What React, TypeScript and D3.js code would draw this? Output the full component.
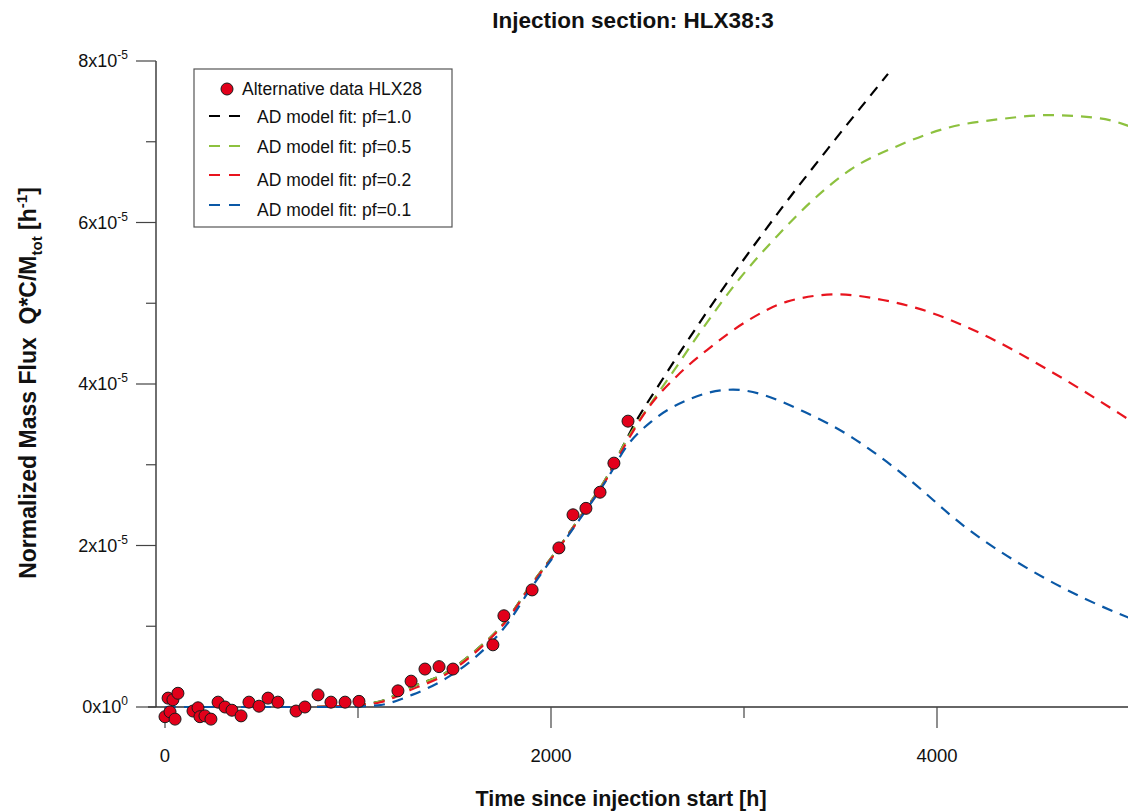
import React from "react";
import * as d3 from "d3";

// ---- data (flux in units of 1e-5 h^-1, time in h) ----
const obsTime = [0, 16, 26, 41, 52, 67, 145, 171, 181, 207, 238, 275, 311, 347, 394, 435, 487, 534, 585, 679, 725, 793, 860, 933, 1005, 1207, 1275, 1347, 1420, 1492, 1699, 1756, 1902, 2041, 2114, 2181, 2254, 2326, 2399];
const obsFlux = [-0.12, 0.11, -0.06, 0.09, -0.15, 0.17, -0.05, -0.01, -0.12, -0.11, -0.15, 0.06, 0.0, -0.04, -0.11, 0.06, 0.01, 0.11, 0.06, -0.05, 0.0, 0.15, 0.06, 0.06, 0.07, 0.2, 0.32, 0.47, 0.5, 0.47, 0.77, 1.13, 1.45, 1.97, 2.38, 2.46, 2.66, 3.02, 3.54];

const pf10Time = [0, 300, 700, 900, 1100, 1280, 1460, 1600, 1770, 1890, 2030, 2150, 2290, 2390, 2425, 2565, 2720, 2876, 3047, 3202, 3430, 3746];
const pf10Flux = [0, 0, 0, 0.01, 0.06, 0.25, 0.43, 0.68, 1.08, 1.49, 1.94, 2.35, 2.85, 3.31, 3.47, 4.01, 4.58, 5.13, 5.7, 6.2, 6.9, 7.84];

const pf05Time = [0, 300, 700, 900, 1100, 1280, 1460, 1600, 1770, 1890, 2030, 2150, 2290, 2390, 2497, 2632, 2772, 2979, 3171, 3358, 3549, 3808, 4067, 4326, 4585, 4845, 5000];
const pf05Flux = [0, 0, 0, 0.01, 0.06, 0.25, 0.43, 0.68, 1.08, 1.49, 1.94, 2.35, 2.85, 3.3, 3.69, 4.15, 4.64, 5.31, 5.83, 6.28, 6.65, 6.96, 7.18, 7.28, 7.33, 7.29, 7.19];

const pf02Time = [0, 300, 700, 900, 1100, 1280, 1460, 1600, 1770, 1890, 2030, 2150, 2290, 2390, 2497, 2653, 2808, 3016, 3223, 3482, 3720, 3896, 4223, 4601, 4948, 5000];
const pf02Flux = [0, 0, 0, 0.01, 0.05, 0.22, 0.41, 0.66, 1.07, 1.48, 1.93, 2.34, 2.83, 3.27, 3.68, 4.1, 4.42, 4.78, 5.02, 5.11, 5.04, 4.94, 4.63, 4.14, 3.63, 3.55];

const pf01Time = [0, 300, 700, 900, 1100, 1280, 1460, 1600, 1770, 1890, 2030, 2150, 2290, 2390, 2528, 2705, 2943, 3326, 3565, 3715, 3845, 4135, 4570, 4938, 5000];
const pf01Flux = [0, 0, 0, 0, 0.02, 0.15, 0.36, 0.6, 1.02, 1.45, 1.92, 2.33, 2.82, 3.22, 3.55, 3.8, 3.93, 3.64, 3.33, 3.08, 2.84, 2.25, 1.58, 1.16, 1.1];

const seriesNames = ["AD model fit: pf=1.0", "AD model fit: pf=0.5", "AD model fit: pf=0.2", "AD model fit: pf=0.1"];
const seriesColors = ["#000000", "#8DC13F", "#E8141E", "#0A58A6"];
const seriesTimes = [pf10Time, pf05Time, pf02Time, pf01Time];
const seriesFluxes = [pf10Flux, pf05Flux, pf02Flux, pf01Flux];

const xMajorTicks = [0, 2000, 4000];
const xMinorTicks = [1000, 3000, 5000];
const yMajorTicks = [0, 2, 4, 6, 8];
const yMinorTicks = [1, 3, 5, 7];
const yTickExp = ["0", "-5", "-5", "-5", "-5"];

const FONT = "'Liberation Sans', Arial, Helvetica, sans-serif";

export default function App() {
  const x = d3.scaleLinear().domain([0, 5000]).range([165, 1130]);
  const y = d3.scaleLinear().domain([0, 8]).range([707, 61]);
  const line = d3
    .line<[number, number]>()
    .x((d) => x(d[0]))
    .y((d) => y(d[1]))
    .curve(d3.curveMonotoneX);

  const legendY = [116, 146, 175, 205];
  const legendTextY = [123, 153, 186, 216];

  return (
    <svg width={1128} height={812} style={{ position: "absolute", left: 0, top: 0, background: "#fff" }} fontFamily={FONT}>
      <rect x={0} y={0} width={1128} height={812} fill="#fff" />
      <defs>
        <clipPath id="plotclip">
          <rect x={156} y={40} width={972} height={700} />
        </clipPath>
      </defs>
      {/* title */}
      <text x={633} y={28} textAnchor="middle" fontSize={22.5} fontWeight="bold" fill="#111">
        Injection section: HLX38:3
      </text>

      {/* axes */}
      <line x1={156} y1={y(8)} x2={156} y2={707} stroke="#222" strokeWidth={1.3} />
      <line x1={148} y1={707} x2={1128} y2={707} stroke="#333" strokeWidth={1.3} />
      {yMajorTicks.map((t) => (
        <line key={"ym" + t} x1={136} x2={156} y1={y(t)} y2={y(t)} stroke="#444" strokeWidth={1.2} />
      ))}
      {yMinorTicks.map((t) => (
        <line key={"yn" + t} x1={146} x2={156} y1={y(t)} y2={y(t)} stroke="#444" strokeWidth={1.2} />
      ))}
      {yMajorTicks.map((t, i) => (
        <text key={"yl" + t} x={128} y={y(t) + 6} textAnchor="end" fontSize={18} fill="#111">
          {t}x10
          <tspan fontSize={12} dy={-8}>{yTickExp[i]}</tspan>
        </text>
      ))}
      {xMajorTicks.map((t) => (
        <line key={"xm" + t} x1={x(t)} x2={x(t)} y1={707} y2={728} stroke="#444" strokeWidth={1.2} />
      ))}
      {xMinorTicks.map((t) => (
        <line key={"xn" + t} x1={x(t)} x2={x(t)} y1={707} y2={718} stroke="#444" strokeWidth={1.2} />
      ))}
      {xMajorTicks.map((t) => (
        <text key={"xl" + t} x={x(t)} y={762} textAnchor="middle" fontSize={18.5} fill="#111">
          {t}
        </text>
      ))}

      {/* axis titles */}
      <text x={621} y={806} textAnchor="middle" fontSize={21.5} fontWeight="bold" fill="#111">
        Time since injection start [h]
      </text>
      <text transform="translate(36,383) rotate(-90)" textAnchor="middle" fontSize={23} fontWeight="bold" fill="#111">
        Normalized Mass Flux{"\u00a0\u00a0"}Q*C/M
        <tspan fontSize={15} dy={6}>tot</tspan>
        <tspan dy={-6}> [h</tspan>
        <tspan fontSize={15} dy={-9}>-1</tspan>
        <tspan dy={9}>]</tspan>
      </text>

      {/* model curves */}
      <g clipPath="url(#plotclip)">
        {seriesNames.map((name, i) => {
          const pts: [number, number][] = seriesTimes[i].map((t, j) => [t, seriesFluxes[i][j]]);
          return (
            <path key={name} d={line(pts) || ""} fill="none" stroke={seriesColors[i]} strokeWidth={2.2} strokeDasharray="11,8" />
          );
        })}
      </g>

      {/* data points */}
      {obsTime.map((t, i) => (
        <circle key={"p" + i} cx={x(t)} cy={y(obsFlux[i])} r={6} fill="#E2001A" stroke="#1a1a1a" strokeWidth={1} />
      ))}

      {/* legend */}
      <rect x={194} y={69} width={258} height={158} fill="#fff" stroke="#555" strokeWidth={1.2} />
      <circle cx={227} cy={89} r={6} fill="#E2001A" stroke="#1a1a1a" strokeWidth={1} />
      <text x={242} y={95} fontSize={17.5} fill="#111">Alternative data HLX28</text>
      {seriesNames.map((name, i) => (
        <g key={"lg" + name}>
          <line x1={209} x2={241} y1={legendY[i]} y2={legendY[i]} stroke={seriesColors[i]} strokeWidth={2.2} strokeDasharray="11,9" />
          <text x={257} y={legendTextY[i]} fontSize={17.5} fill="#111">{name}</text>
        </g>
      ))}
    </svg>
  );
}
